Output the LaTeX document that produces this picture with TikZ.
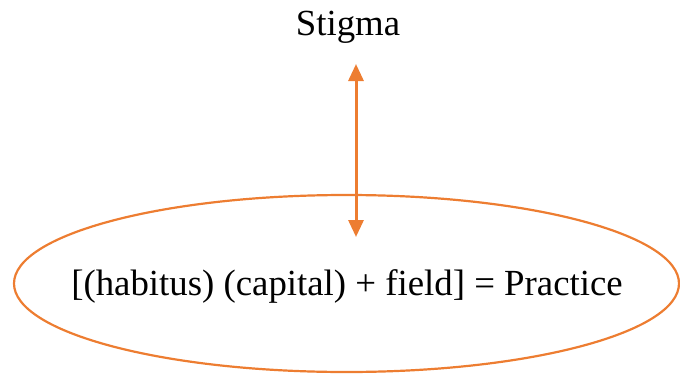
\documentclass[tikz,border=0pt]{standalone}
\usepackage{fontspec}
\setmainfont{Liberation Serif}
\usepackage{tikz}
\usetikzlibrary{arrows.meta, positioning, shapes.geometric}
\definecolor{stigorange}{HTML}{ED7D31}

\begin{document}
\begin{tikzpicture}[
        x=1pt, y=1pt,
        label/.style={font=\fontsize{36.8}{44}\selectfont, inner sep=0pt},
        ring/.style={draw=stigorange, line width=2.2pt},
        arrow/.style={{Triangle[length=17pt, width=15pt]}-{Triangle[length=17pt, width=15pt]}, stigorange, line width=3pt}
    ]
    \useasboundingbox (0,0) rectangle (680,376);
    \node[label, anchor=base] (stigma) at (348,341) {Stigma};
    \node[label] (practice) at (347,89.5) {[(habitus) (capital) + field] = Practice};
    \draw[ring] (346.5,92.5) ellipse [x radius=332.5, y radius=88.5];
    \coordinate (up) at (356,312);
    \coordinate (down) at (356,139);
    \draw[arrow] (up) -- (down);
\end{tikzpicture}
\end{document}
